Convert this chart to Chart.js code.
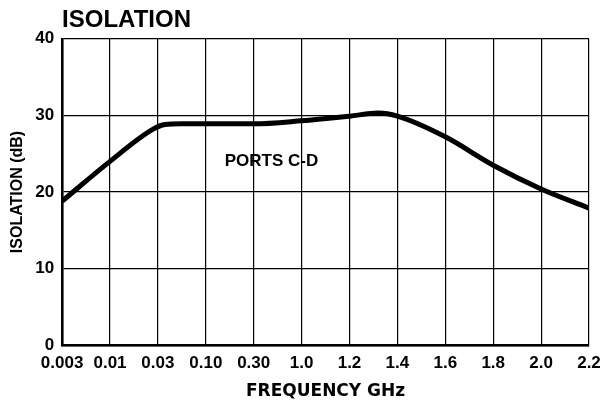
<!DOCTYPE html>
<html>
<head>
<meta charset="utf-8">
<script src="https://cdn.jsdelivr.net/npm/chart.js@4.4.0/dist/chart.umd.min.js"></script>
<style>
  html, body { margin: 0; padding: 0; background: #fff; }
  #wrap { width: 600px; height: 406px; position: relative; }
</style>
</head>
<body>
<div id="wrap"><canvas id="isolation"></canvas></div>
<script>
// frequency tick labels (GHz) - the grid is evenly spaced, not a true scale
var freqLabels = ['0.003', '0.01', '0.03', '0.10', '0.30', '1.0', '1.2', '1.4', '1.6', '1.8', '2.0', '2.2'];
var yTicks = [0, 10, 20, 30, 40];

// curve points: position along the frequency grid (0 = 0.003, 11 = 2.2) and isolation in dB
var gridPos   = [0,    1,    1.9,  2.15, 2.5,  3,    4,    5,    6,    6.6,  7,    8,    9,    10,   11];
var isolation = [18.8, 24.0, 28.2, 28.8, 28.9, 28.9, 28.9, 29.3, 29.9, 30.3, 29.9, 27.2, 23.5, 20.4, 17.9];

var portsText = 'PORTS C-D';

var points = gridPos.map(function (p, i) { return { x: p, y: isolation[i] }; });

var labelPlugin = {
    id: 'portsLabel',
    afterDatasetsDraw: function (chart) {
        var c = chart.ctx;
        var xs = chart.scales.x, ys = chart.scales.y;
        c.save();
        c.fillStyle = '#000';
        c.font = 'bold 17px "Liberation Sans", Arial, sans-serif';
        c.textAlign = 'center';
        c.textBaseline = 'middle';
        c.fillText(portsText, xs.getPixelForValue(4.37), ys.getPixelForValue(24));
        c.restore();
    }
};

var ctx = document.getElementById('isolation').getContext('2d');
var chart = new Chart(ctx, {
    type: 'line',
    data: {
        datasets: [{
            label: portsText,
            data: points,
            borderColor: '#000',
            borderWidth: 5,
            pointRadius: 0,
            fill: false,
            cubicInterpolationMode: 'monotone'
        }]
    },
    options: {
        responsive: true,
        maintainAspectRatio: false,
        animation: false,
        layout: { padding: { left: 6, right: 0, top: 2, bottom: 2 } },
        plugins: {
            legend: { display: false },
            tooltip: { enabled: false },
            title: {
                display: true,
                text: 'ISOLATION',
                align: 'start',
                fullSize: false,
                color: '#000',
                font: { family: '"Liberation Sans", Arial, sans-serif', size: 24, weight: 'bold' },
                padding: { top: 4, bottom: 4 }
            }
        },
        scales: {
            x: {
                type: 'linear',
                min: 0,
                max: freqLabels.length - 1,
                grid: { color: '#000', lineWidth: 1.2, drawTicks: false },
                border: { color: '#000', width: 2.5 },
                // let the last label ("2.2") run close to the edge like the original
                afterFit: function (s) { s.paddingRight = 11; },
                ticks: {
                    stepSize: 1,
                    autoSkip: false,
                    maxRotation: 0,
                    padding: 8,
                    color: '#000',
                    font: { family: '"Liberation Sans", Arial, sans-serif', size: 17, weight: 'bold' },
                    callback: function (v) { return freqLabels[v]; }
                },
                title: {
                    display: true,
                    text: 'FREQUENCY GHz',
                    color: '#000',
                    font: { family: '"DejaVu Sans", sans-serif', size: 17, weight: 'bold' },
                    padding: { top: 0, bottom: 2 }
                }
            },
            y: {
                min: yTicks[0],
                max: yTicks[yTicks.length - 1],
                grid: { color: '#000', lineWidth: 1.2, drawTicks: false },
                border: { color: '#000', width: 2.5 },
                ticks: {
                    stepSize: 10,
                    padding: 8,
                    color: '#000',
                    font: { family: '"Liberation Sans", Arial, sans-serif', size: 17, weight: 'bold' }
                },
                title: {
                    display: true,
                    text: 'ISOLATION (dB)',
                    color: '#000',
                    font: { family: '"Liberation Sans", Arial, sans-serif', size: 16, weight: 'bold' },
                    padding: { top: 2, bottom: 0 }
                }
            }
        }
    },
    plugins: [labelPlugin]
});
</script>
</body>
</html>
